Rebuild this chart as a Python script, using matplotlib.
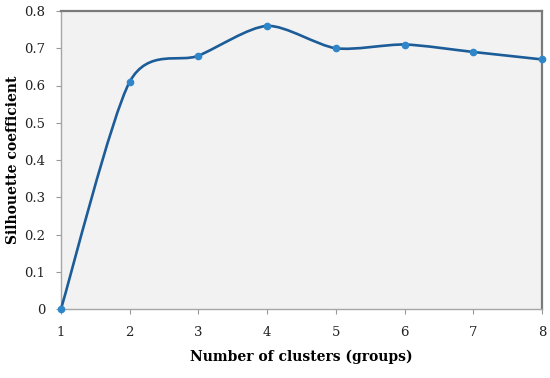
import matplotlib
matplotlib.use("Agg")
import matplotlib.pyplot as plt
from matplotlib.path import Path
from matplotlib.patches import PathPatch
import numpy as np

clusters = [1, 2, 3, 4, 5, 6, 7, 8]
silhouette = [0.0, 0.61, 0.68, 0.76, 0.70, 0.71, 0.69, 0.67]
yticks = [0, 0.1, 0.2, 0.3, 0.4, 0.5, 0.6, 0.7, 0.8]
ytick_labels = ["0", "0.1", "0.2", "0.3", "0.4", "0.5", "0.6", "0.7", "0.8"]

plt.rcParams['font.family'] = ['DejaVu Serif']

fig = plt.figure(figsize=(5.5, 3.78), dpi=100)
ax = fig.add_axes([61/550, 1 - 309/378, (542-61)/550, (309-11)/378])
ax.set_facecolor('#f2f2f2')

# Smooth (Excel-style) curve through the data points
x = np.array(clusters, dtype=float)
y = np.array(silhouette, dtype=float)
verts = [(x[0], y[0])]
codes = [Path.MOVETO]
n = len(x)
k = 1 / 7.5
for i in range(n - 1):
    p0 = np.array([x[i-1], y[i-1]]) if i > 0 else np.array([x[i], y[i]])
    p1 = np.array([x[i], y[i]])
    p2 = np.array([x[i+1], y[i+1]])
    p3 = np.array([x[i+2], y[i+2]]) if i + 2 < n else p2
    c1 = p1 + (p2 - p0) * k
    c2 = p2 - (p3 - p1) * k
    verts += [tuple(c1), tuple(c2), tuple(p2)]
    codes += [Path.CURVE4] * 3
patch = PathPatch(Path(verts, codes), facecolor='none', edgecolor='#1c5c98', lw=1.9, zorder=3, clip_on=False)
ax.add_patch(patch)
ax.plot(clusters, silhouette, 'o', color='#2f86c9', ms=4.5, zorder=4, clip_on=False)

ax.set_xlim(1, 8)
ax.set_ylim(0, 0.8)
ax.set_xticks(clusters)
ax.set_xticklabels([str(c) for c in clusters])
ax.set_yticks(yticks)
ax.set_yticklabels(ytick_labels)
ax.tick_params(axis='both', labelsize=9.5, length=3.5, width=0.8, direction='out')
ax.tick_params(axis='x', colors='#999999', labelcolor='#222222', pad=9)
ax.tick_params(axis='y', colors='#999999', labelcolor='#222222', pad=8)

for s in ['left', 'bottom']:
    ax.spines[s].set_color('#a6a6a6')
    ax.spines[s].set_linewidth(1.0)
for s in ['top', 'right']:
    ax.spines[s].set_color('#7a7a7a')
    ax.spines[s].set_linewidth(1.6)

ax.set_xlabel('Number of clusters (groups)', fontsize=10, fontweight='bold')
ax.set_ylabel('Silhouette coefficient', fontsize=10, fontweight='bold')
ax.xaxis.set_label_coords(0.5, -(357 - 309) / 298, transform=ax.transAxes)
ax.yaxis.set_label_coords(-(61 - 13) / 481, 0.5, transform=ax.transAxes)
ax.xaxis.label.set_va('center')
ax.yaxis.label.set_va('center')

fig.savefig('out.png', dpi=100)
